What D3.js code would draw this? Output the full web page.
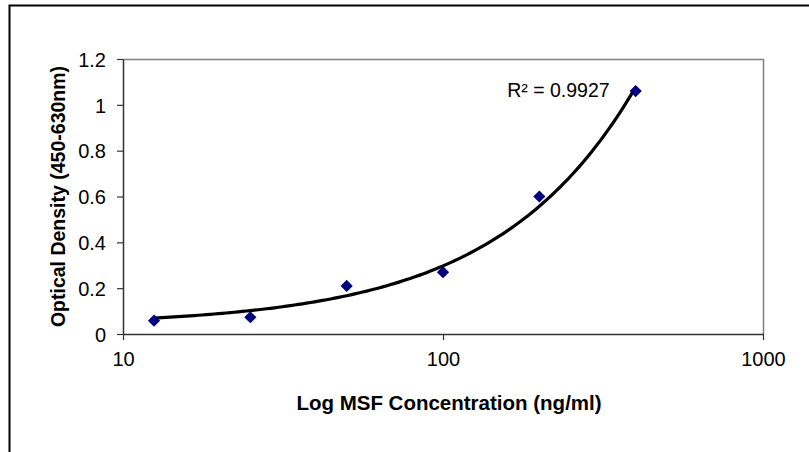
<!DOCTYPE html>
<html>
<head>
<meta charset="utf-8">
<script src="https://cdn.jsdelivr.net/npm/d3@7"></script>
<style>
  body { margin: 0; background: #fff; }
  text { font-family: "Liberation Sans", Arial, sans-serif; fill: #000; }
</style>
</head>
<body>
<div id="chart"></div>
<script>
// standard curve, serial dilution
var concentration = [12.5, 25, 50, 100, 200, 400];
var density = [0.058, 0.073, 0.21, 0.27, 0.60, 1.06];
var xTickValues = [10, 100, 1000];
var yTickValues = [0, 0.2, 0.4, 0.6, 0.8, 1, 1.2];
var xTitle = 'Log MSF Concentration (ng/ml)';
var yTitle = 'Optical Density (450-630nm)';
var rSquaredLabel = 'R\u00b2 = 0.9927';

var width = 809, height = 452;
var margin = {top: 59, right: 46, bottom: 118, left: 123};
var plotW = width - margin.left - margin.right,
    plotH = height - margin.top - margin.bottom;

var svg = d3.select('#chart').append('svg')
  .attr('width', width)
  .attr('height', height);

// frame (only top and left edges show in the original crop)
svg.append('path')
  .attr('d', 'M9.5,452 V5.5 H809')
  .attr('fill', 'none')
  .attr('stroke', '#000')
  .attr('stroke-width', 2);

var x = d3.scaleLog().domain([10, 1000]).range([0, plotW]);
var y = d3.scaleLinear().domain([0, 1.2]).range([plotH, 0]);

var g = svg.append('g')
  .attr('transform', 'translate(' + margin.left + ',' + margin.top + ')');

// plot area border (top & right in gray)
g.append('path')
  .attr('d', 'M0,0.5 H' + (plotW + 0.5) + ' V' + plotH)
  .attr('fill', 'none')
  .attr('stroke', '#808080')
  .attr('stroke-width', 1.5);

var xAxis = g.append('g')
  .attr('transform', 'translate(0,' + plotH + ')')
  .call(d3.axisBottom(x).tickValues(xTickValues).tickFormat(d3.format('d')).tickSize(6).tickSizeOuter(0));

var yAxis = g.append('g')
  .call(d3.axisLeft(y).tickValues(yTickValues).tickFormat(function(d){ return String(d); }).tickSize(6).tickSizeOuter(0));

[xAxis, yAxis].forEach(function(a) {
  a.select('.domain').attr('stroke', '#333').attr('stroke-width', 1.5);
  a.selectAll('.tick line').attr('stroke', '#333').attr('stroke-width', 1.2);
  a.selectAll('.tick text')
    .attr('font-family', '"Liberation Sans", Arial, sans-serif')
    .attr('font-size', 20)
    .attr('fill', '#000');
});
xAxis.selectAll('.tick text').attr('dy', null).attr('y', 32);
yAxis.selectAll('.tick text').attr('x', -17).attr('dy', '0.36em');

// linear trendline (Excel style) fitted on the raw values
var mx = d3.mean(concentration), my = d3.mean(density);
var sxy = d3.sum(concentration, function(c, i){ return (c - mx) * (density[i] - my); });
var sxx = d3.sum(concentration, function(c){ return (c - mx) * (c - mx); });
var slope = sxy / sxx, intercept = my - slope * mx;

var trend = d3.range(0, 121).map(function(i) {
  var c = Math.exp(Math.log(12.5) + i / 120 * (Math.log(400) - Math.log(12.5)));
  return [c, intercept + slope * c];
});

g.append('path')
  .datum(trend)
  .attr('fill', 'none')
  .attr('stroke', '#000')
  .attr('stroke-width', 3.2)
  .attr('d', d3.line().x(function(d){ return x(d[0]); }).y(function(d){ return y(d[1]); }));

g.selectAll('.pt')
  .data(concentration)
  .enter()
  .append('path')
  .attr('class', 'pt')
  .attr('d', d3.symbol().type(d3.symbolDiamond2).size(95))
  .attr('transform', function(d, i){ return 'translate(' + x(d) + ',' + y(density[i]) + ')'; })
  .attr('fill', '#000080');

g.append('text')
  .attr('x', x(400) - 26)
  .attr('y', y(1.06) + 6)
  .attr('text-anchor', 'end')
  .attr('font-size', 19.5)
  .text(rSquaredLabel);

svg.append('text')
  .attr('x', margin.left + plotW / 2 + 6)
  .attr('y', 410)
  .attr('text-anchor', 'middle')
  .attr('font-weight', 'bold')
  .attr('font-size', 20.5)
  .text(xTitle);

svg.append('text')
  .attr('transform', 'translate(65,' + (margin.top + plotH / 2) + ') rotate(-90)')
  .attr('text-anchor', 'middle')
  .attr('font-weight', 'bold')
  .attr('font-size', 19.5)
  .text(yTitle);
</script>
</body>
</html>
